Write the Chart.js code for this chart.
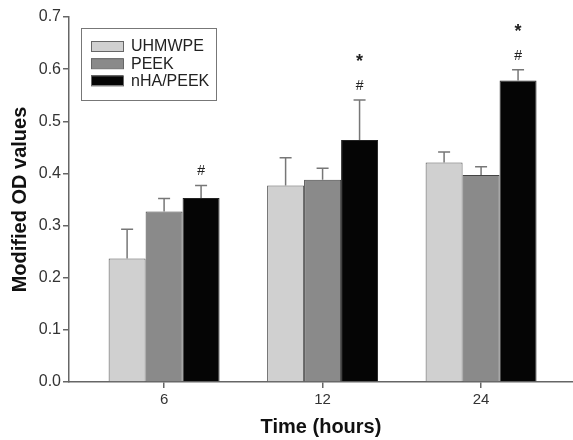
<!DOCTYPE html>
<html>
<head>
<meta charset="utf-8">
<script src="https://cdn.jsdelivr.net/npm/chart.js@4/dist/chart.umd.min.js"></script>
<style>
  body { margin: 0; background: #fff; }
  #wrap { width: 573px; height: 440px; position: relative; }
</style>
</head>
<body>
<div id="wrap"><canvas id="chart"></canvas></div>
<script>
// Data
const timeLabels = ['6', '12', '24'];
const groupNames = ['UHMWPE', 'PEEK', 'nHA/PEEK'];

const uhmwpeValues = [0.237, 0.377, 0.421];
const uhmwpeErrors = [0.056, 0.053, 0.020];
const peekValues = [0.327, 0.388, 0.397];
const peekErrors = [0.025, 0.022, 0.016];
const nhaValues = [0.353, 0.464, 0.578];
const nhaErrors = [0.024, 0.077, 0.021];

// significance marks above the nHA/PEEK bars
const hashMarks = ['#', '#', '#'];
const starMarks = ['', '*', '*'];

const fontFamily = '"Liberation Sans", Arial, sans-serif';
const axisColor = '#666';

function toPoints(values) {
    return values.map((v, i) => ({ x: i, y: v }));
}

// draws the upper half of each error bar plus the # and * marks
const errorBarPlugin = {
    id: 'errorBars',
    afterDatasetsDraw(chart) {
        const ctx = chart.ctx;
        const yScale = chart.scales.y;
        ctx.save();
        chart.data.datasets.forEach((ds, di) => {
            const meta = chart.getDatasetMeta(di);
            meta.data.forEach((bar, i) => {
                const top = yScale.getPixelForValue(ds.data[i].y + ds.errors[i]);
                ctx.strokeStyle = '#777';
                ctx.lineWidth = 1.5;
                ctx.beginPath();
                ctx.moveTo(bar.x, bar.y);
                ctx.lineTo(bar.x, top);
                ctx.moveTo(bar.x - 6, top);
                ctx.lineTo(bar.x + 6, top);
                ctx.stroke();

                if (di === 2) {
                    ctx.fillStyle = '#222';
                    ctx.textAlign = 'center';
                    ctx.textBaseline = 'middle';
                    if (hashMarks[i]) {
                        ctx.font = '14px ' + fontFamily;
                        ctx.fillText(hashMarks[i], bar.x, top - 14);
                    }
                    if (starMarks[i]) {
                        ctx.font = 'bold 18px ' + fontFamily;
                        ctx.fillText(starMarks[i], bar.x, top - 38);
                    }
                }
            });
        });
        ctx.restore();
    }
};

// boxed legend in the upper left of the plot
const boxLegendPlugin = {
    id: 'boxLegend',
    afterDraw(chart) {
        const ctx = chart.ctx;
        const area = chart.chartArea;
        const x0 = area.left + 12, y0 = area.top + 11;
        ctx.save();
        ctx.fillStyle = '#fff';
        ctx.fillRect(x0, y0, 135, 72);
        ctx.strokeStyle = '#777';
        ctx.lineWidth = 1;
        ctx.strokeRect(x0 + 0.5, y0 + 0.5, 135, 72);
        ctx.font = '16px ' + fontFamily;
        ctx.textBaseline = 'middle';
        ctx.textAlign = 'left';
        chart.data.datasets.forEach((ds, i) => {
            const cy = y0 + 18 + i * 17.2;
            ctx.fillStyle = ds.backgroundColor;
            ctx.fillRect(x0 + 10, cy - 5, 32, 10);
            ctx.strokeStyle = '#666';
            ctx.strokeRect(x0 + 10.5, cy - 4.5, 32, 10);
            ctx.fillStyle = '#222';
            ctx.fillText(ds.label, x0 + 50, cy + 1);
        });
        ctx.restore();
    }
};

new Chart(document.getElementById('chart'), {
    type: 'bar',
    data: {
        datasets: [{
            label: groupNames[0],
            data: toPoints(uhmwpeValues),
            errors: uhmwpeErrors,
            backgroundColor: '#d0d0d0',
            borderColor: '#555',
            borderWidth: 1
        }, {
            label: groupNames[1],
            data: toPoints(peekValues),
            errors: peekErrors,
            backgroundColor: '#8a8a8a',
            borderColor: '#444',
            borderWidth: 1
        }, {
            label: groupNames[2],
            data: toPoints(nhaValues),
            errors: nhaErrors,
            backgroundColor: '#050505',
            borderColor: '#222',
            borderWidth: 1
        }]
    },
    options: {
        responsive: true,
        maintainAspectRatio: false,
        animation: false,
        categoryPercentage: 0.70,
        barPercentage: 1.0,
        layout: { padding: { top: 17, right: 0, left: 0, bottom: 0 } },
        plugins: {
            legend: { display: false },
            tooltip: { enabled: false }
        },
        scales: {
            x: {
                type: 'linear',
                offset: false,
                min: -0.6,
                max: 2.58,
                afterBuildTicks: axis => {
                    axis.ticks = timeLabels.map((_, i) => ({ value: i }));
                },
                afterFit: s => { s.height = 58; },
                ticks: {
                    callback: v => timeLabels[v],
                    color: '#333',
                    font: { family: fontFamily, size: 15 },
                    padding: 3,
                    maxRotation: 0
                },
                grid: { offset: false, drawOnChartArea: false, tickLength: 6, color: axisColor, lineWidth: 1.5 },
                border: { color: axisColor, width: 1.5 },
                title: {
                    display: true,
                    text: 'Time (hours)',
                    color: '#111',
                    font: { family: fontFamily, size: 20, weight: 'bold' },
                    padding: { top: 2, bottom: 1 }
                }
            },
            y: {
                min: 0,
                max: 0.7,
                afterFit: s => { s.width = 69; },
                ticks: {
                    stepSize: 0.1,
                    callback: v => v.toFixed(1),
                    color: '#333',
                    font: { family: fontFamily, size: 16 },
                    padding: 2
                },
                grid: { drawOnChartArea: false, tickLength: 6, color: axisColor, lineWidth: 1.5 },
                border: { color: axisColor, width: 1.5 },
                title: {
                    display: true,
                    text: 'Modified OD values',
                    color: '#111',
                    font: { family: fontFamily, size: 20, weight: 'bold' },
                    padding: { top: 8, bottom: 0 }
                }
            }
        }
    },
    plugins: [errorBarPlugin, boxLegendPlugin]
});
</script>
</body>
</html>
